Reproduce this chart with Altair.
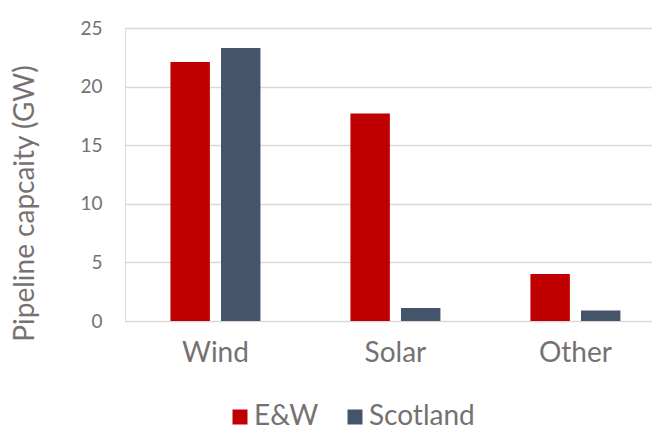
import altair as alt
import pandas as pd

# Pipeline capacity by technology and region (GW)
technologies = ["Wind", "Solar", "Other"]
regions = ["E&W", "Scotland"]
ew_values = [22.1, 17.7, 4.0]
scotland_values = [23.3, 1.1, 0.9]
y_ticks = [0, 5, 10, 15, 20, 25]
region_colors = ["#C00000", "#44546A"]

rows = []
for tech, ew, sc in zip(technologies, ew_values, scotland_values):
    rows.append({"Technology": tech, "Region": regions[0], "GW": ew})
    rows.append({"Technology": tech, "Region": regions[1], "GW": sc})
df = pd.DataFrame(rows)

FONT = "Lato"
TEXT = "#767171"

chart = (
    alt.Chart(df)
    .mark_bar()
    .encode(
        x=alt.X(
            "Technology:N",
            sort=technologies,
            scale=alt.Scale(paddingInner=0.5, paddingOuter=0.214, align=0.59),
            axis=alt.Axis(
                title=None,
                labelAngle=0,
                labelFontSize=28,
                labelColor=TEXT,
                labelFont=FONT,
                labelPadding=18,
                domain=False,
                ticks=False,
                grid=False,
            ),
        ),
        xOffset=alt.XOffset(
            "Region:N",
            sort=regions,
            scale=alt.Scale(paddingInner=0.22, paddingOuter=0),
        ),
        y=alt.Y(
            "GW:Q",
            scale=alt.Scale(domain=[0, 25], nice=False),
            axis=alt.Axis(
                values=y_ticks,
                title="Pipeline capcaity (GW)",
                titleFont=FONT,
                titleFontSize=28,
                titleFontWeight="normal",
                titleColor=TEXT,
                titleAngle=270,
                titleBaseline="middle",
                titleAlign="center",
                titleX=-100,
                titleY=175,
                labelFont=FONT,
                labelFontSize=19,
                labelColor=TEXT,
                labelPadding=23,
                domain=False,
                ticks=False,
                grid=True,
                gridColor="#D9D9D9",
                gridWidth=1.5,
            ),
        ),
        color=alt.Color(
            "Region:N",
            sort=regions,
            scale=alt.Scale(domain=regions, range=region_colors),
            legend=alt.Legend(
                title=None,
                orient="none",
                direction="horizontal",
                legendX=101,
                legendY=375,
                symbolType="square",
                symbolSize=225,
                symbolStrokeWidth=0,
                labelFont=FONT,
                labelFontSize=28,
                labelColor=TEXT,
                labelOffset=0,
                columnPadding=22,
            ),
        ),
    )
    .properties(
        width=527,
        height=293,
        padding={"left": 125, "top": 28, "right": 0, "bottom": 107},
        autosize=alt.AutoSizeParams(type="none"),
    )
    .configure_view(stroke=None)
    .configure(background="white")
)

chart.save("out.html", embed_options={"renderer": "svg", "actions": False})
